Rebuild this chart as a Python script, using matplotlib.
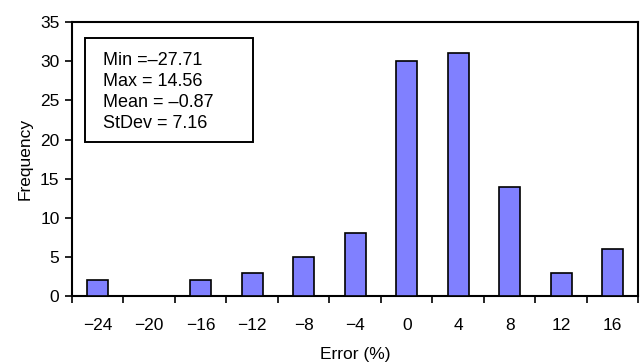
import matplotlib
matplotlib.use("Agg")
import matplotlib.pyplot as plt
from matplotlib.patches import Rectangle
import numpy as np

categories = ["\u221224", "\u221220", "\u221216", "\u221212", "\u22128", "\u22124", "0", "4", "8", "12", "16"]
frequency = [2, 0, 2, 3, 5, 8, 30, 31, 14, 3, 6]
yticks = [0, 5, 10, 15, 20, 25, 30, 35]
stats_text = "Min =\u201327.71\nMax = 14.56\nMean = \u20130.87\nStDev = 7.16"

plt.rcParams['font.family'] = ['Liberation Sans', 'DejaVu Sans']
fig = plt.figure(figsize=(6.4, 3.62), dpi=100)
ax = fig.add_axes([0.1125, 0.182, 0.885, 0.757])

x = np.arange(len(categories))
ax.bar(x, frequency, width=0.41, color="#8080FF", edgecolor="black", linewidth=1.2, zorder=3)

ax.set_xlim(-0.5, len(categories) - 0.5)
ax.set_ylim(0, 35)
ax.set_yticks(yticks)
ax.set_xticks(x)
ax.set_xticklabels(categories)
ax.set_xticks(np.arange(-0.5, len(categories) - 0.5 + 0.01, 1), minor=True)
ax.tick_params(axis='x', which='major', length=0, pad=16, labelsize=12.5)
ax.tick_params(axis='x', which='minor', length=5, width=1.2, direction='out')
ax.tick_params(axis='y', length=5, width=1.2, direction='out', labelsize=12.5, pad=4)

for s in ax.spines.values():
    s.set_linewidth(1.5)

ax.set_xlabel("Error (%)", fontsize=12.5, labelpad=10)
ax.set_ylabel("Frequency", fontsize=12.5, labelpad=5)

ax.add_patch(Rectangle((0.023, 0.562), 0.297, 0.380, transform=ax.transAxes,
                       facecolor='white', edgecolor='black', linewidth=1.4, zorder=4))
ax.text(0.055, 0.89, stats_text, transform=ax.transAxes, fontsize=13,
        va='top', ha='left', linespacing=1.3, zorder=5)

fig.savefig("out.png", dpi=100)
